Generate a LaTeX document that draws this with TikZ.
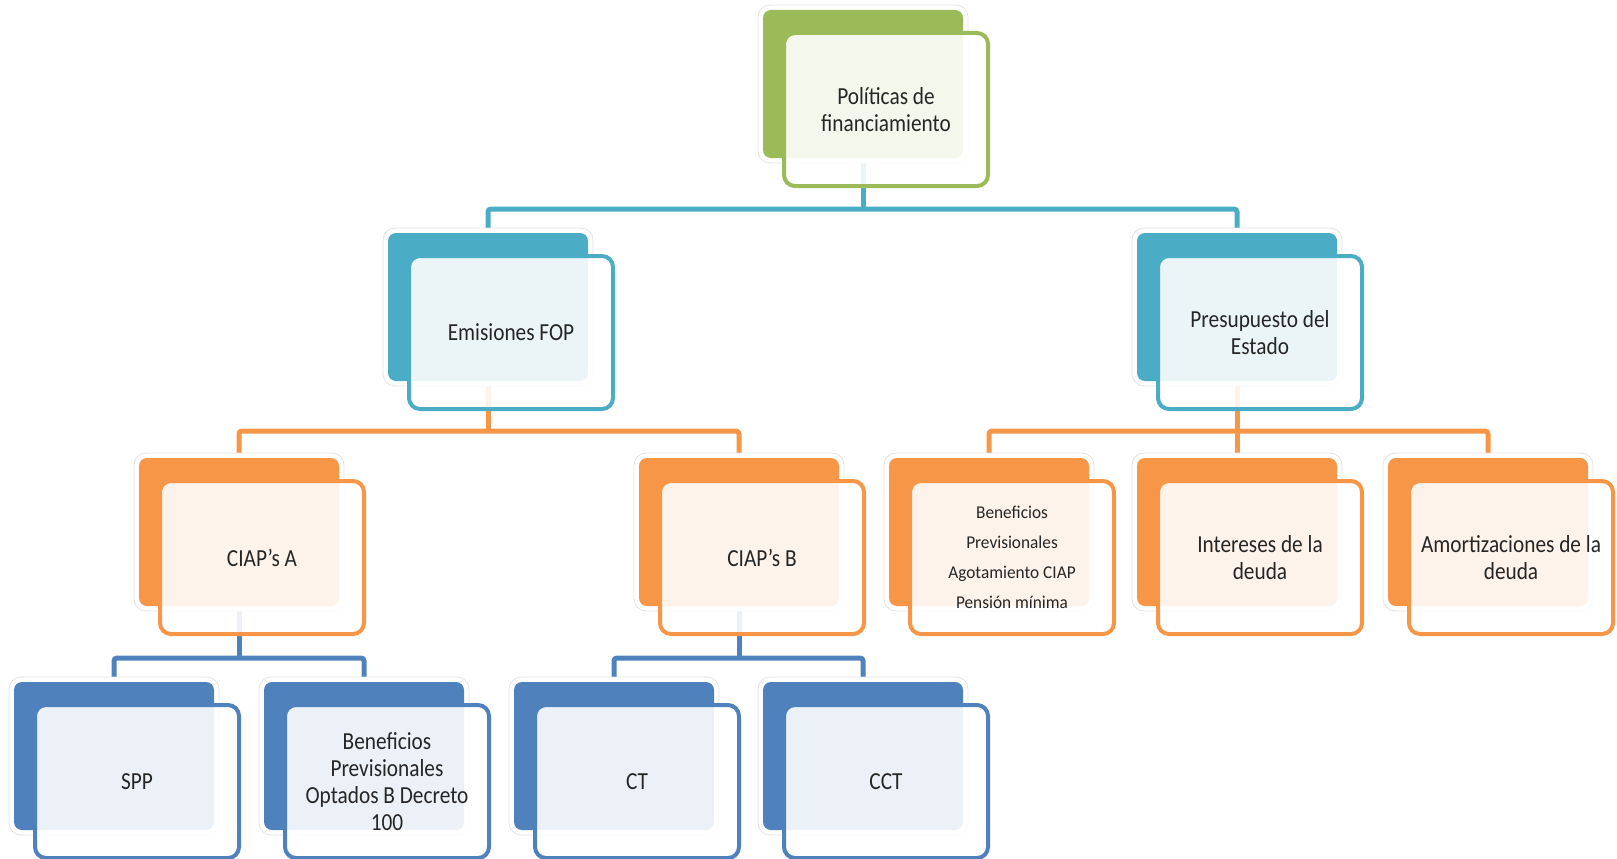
\documentclass[tikz,border=0pt]{standalone}
\usepackage{fontspec}
\setmainfont{Carlito}
\newfontfamily\mainf{Carlito}[FakeStretch=0.87]
\newfontfamily\smallf{Carlito}[FakeStretch=0.96]
\definecolor{cgreen}{HTML}{9BBB59}
\definecolor{cteal}{HTML}{4BACC6}
\definecolor{corange}{HTML}{F79646}
\definecolor{cblue}{HTML}{4F81BD}
\definecolor{ctext}{HTML}{262626}
\definecolor{cglow}{HTML}{E2E2E2}
\pgfdeclarelayer{bg}
\pgfsetlayers{bg,main}
\tikzset{
  glowbox/.style={draw=cglow, line width=0.8pt, fill=white, rounded corners=12pt,
    minimum width=210pt, minimum height=158pt, inner sep=0pt},
  backbox/.style={rounded corners=8pt, minimum width=200pt, minimum height=148pt, inner sep=0pt},
  frontbox/.style={line width=4pt, rounded corners=11pt, fill=white, fill opacity=0.89,
    text opacity=1, minimum width=204pt, minimum height=153pt, inner sep=0pt,
    align=center, text=ctext},
  bigtxt/.style={font=\mainf\fontsize{24.5}{27}\selectfont},
  smalltxt/.style={font=\smallf\fontsize{18}{30}\selectfont},
  conn/.style={line width=5pt, rounded corners=3pt},
}
\newcommand\smartbox[6]{%
  \node[glowbox] (#1g) at (#2+100,#3+74) {};
  \node[backbox, fill=#4] (#1) at (#2+100,#3+74) {};
  \node[frontbox, draw=#4, #5] (#1f) at (#2+123,#3+99.5) {#6};
}
\begin{document}
\begin{tikzpicture}[x=1pt,y=-1pt]
\useasboundingbox (0,0) rectangle (1617,859);
% nodes
\smartbox{top}{763}{10}{cgreen}{bigtxt}{Políticas de\\financiamiento}
\smartbox{emis}{388}{233}{cteal}{bigtxt}{Emisiones FOP}
\smartbox{pres}{1137}{233}{cteal}{bigtxt}{Presupuesto del\\Estado}
\smartbox{ciapa}{139}{458}{corange}{bigtxt}{CIAP’s A}
\smartbox{ciapb}{639}{458}{corange}{bigtxt}{CIAP’s B}
\smartbox{benef}{889}{458}{corange}{smalltxt}{Beneficios\\Previsionales\\Agotamiento CIAP\\Pensión mínima}
\smartbox{inter}{1137}{458}{corange}{bigtxt}{Intereses de la\\deuda}
\smartbox{amort}{1388}{458}{corange}{bigtxt}{Amortizaciones de la\\deuda}
\smartbox{spp}{14}{682}{cblue}{bigtxt}{SPP}
\smartbox{benopt}{264}{682}{cblue}{bigtxt}{Beneficios\\Previsionales\\Optados B Decreto\\100}
\smartbox{ct}{514}{682}{cblue}{bigtxt}{CT}
\smartbox{cct}{763}{682}{cblue}{bigtxt}{CCT}
% connectors
\begin{pgfonlayer}{bg}
\draw[conn, cteal] (top.south) -- (top.south |- 0,209);
\draw[conn, cteal] (emis.north) -- (emis.north |- 0,209) -- (pres.north |- 0,209) -- (pres.north);
\draw[conn, corange] (emis.south) -- (emis.south |- 0,431);
\draw[conn, corange] (ciapa.north) -- (ciapa.north |- 0,431) -- (ciapb.north |- 0,431) -- (ciapb.north);
\draw[conn, corange] (pres.south) -- (pres.south |- 0,431);
\draw[conn, corange] (benef.north) -- (benef.north |- 0,431) -- (amort.north |- 0,431) -- (amort.north);
\draw[conn, corange] (inter.north) -- (inter.north |- 0,431);
\draw[conn, cblue] (ciapa.south) -- (ciapa.south |- 0,658);
\draw[conn, cblue] (spp.north) -- (spp.north |- 0,658) -- (benopt.north |- 0,658) -- (benopt.north);
\draw[conn, cblue] (ciapb.south) -- (ciapb.south |- 0,658);
\draw[conn, cblue] (ct.north) -- (ct.north |- 0,658) -- (cct.north |- 0,658) -- (cct.north);
\end{pgfonlayer}
\end{tikzpicture}
\end{document}
